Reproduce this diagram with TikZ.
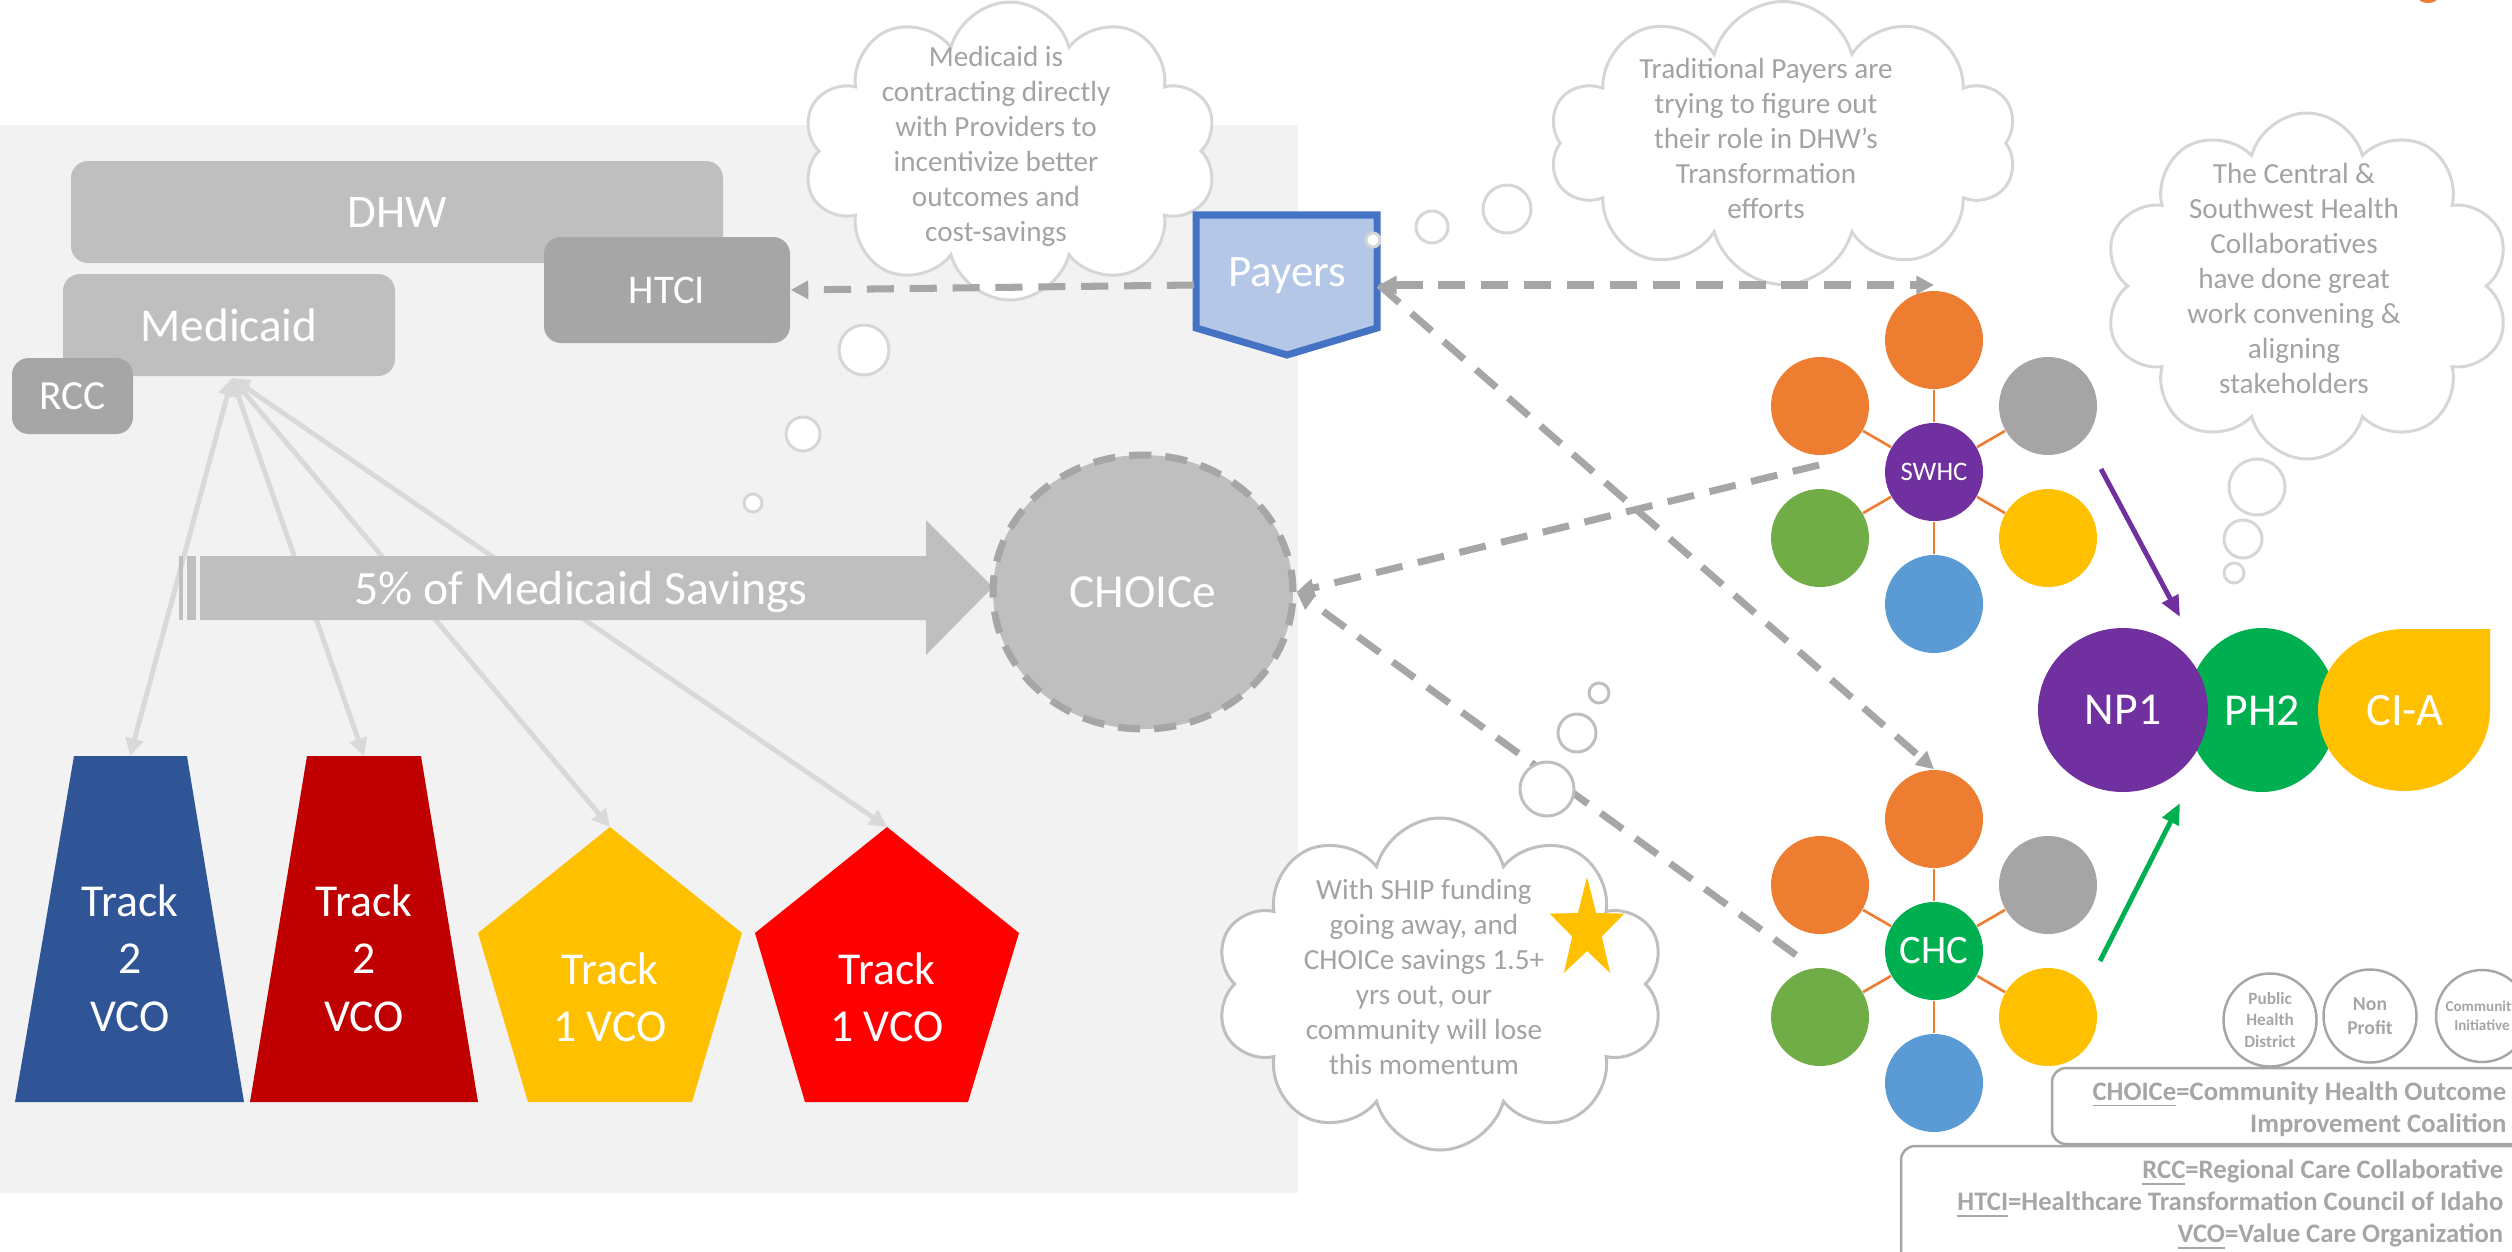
\documentclass[tikz,border=0pt]{standalone}
\usepackage{fontspec}
\setmainfont{Carlito}
\usetikzlibrary{shapes.geometric,shapes.symbols,arrows.meta}
\newcommand{\fsz}[2]{\fontsize{#1}{#2}\selectfont}
\definecolor{bgg}{HTML}{F2F2F2}
\definecolor{boxg}{HTML}{BFBFBF}
\definecolor{darkg}{HTML}{A6A6A6}
\definecolor{lineg}{HTML}{D9D9D9}
\definecolor{dashg}{HTML}{A6A6A6}
\definecolor{cloudln}{HTML}{D6D6D6}
\definecolor{cloudln4}{HTML}{BFBFBF}
\definecolor{cloudtxt}{HTML}{A3A3A3}
\definecolor{legg}{HTML}{A6A6A6}
\definecolor{payfill}{HTML}{B4C7E7}
\definecolor{payline}{HTML}{4472C4}
\definecolor{tblue}{HTML}{2F5597}
\definecolor{tdred}{HTML}{C00000}
\definecolor{tyell}{HTML}{FFC000}
\definecolor{tred}{HTML}{FF0000}
\definecolor{orng}{HTML}{ED7D31}
\definecolor{pgray}{HTML}{A5A5A5}
\definecolor{pgreen}{HTML}{70AD47}
\definecolor{pblue}{HTML}{5B9BD5}
\definecolor{purp}{HTML}{7030A0}
\definecolor{grn}{HTML}{00B050}
\begin{document}
\begin{tikzpicture}[x=0.1mm,y=-0.1mm,
  lbl/.style={text=white, inner sep=0pt},
  gbox/.style={rounded corners=4.8pt, inner sep=0pt, text=white},
  ctext/.style={text=cloudtxt, align=center, inner sep=0pt, font=\fsz{8.3}{9.96}},
  cloudsh/.style={cloud, cloud puffs=10, cloud ignores aspect, draw=cloudln, line width=0.85pt, fill=white, inner sep=0pt},
  bubble/.style={draw=cloudln, line width=0.85pt, fill=white},
  dasharr/.style={draw=dashg, line width=2pt, dash pattern=on 7.7pt off 4.5pt, -{Triangle[length=5pt,width=5pt]}},
  medarr/.style={draw=lineg, line width=1.4pt, {Triangle[length=5pt,width=5pt]}-{Triangle[length=5pt,width=5pt]}},
  spoke/.style={draw=orng, line width=0.75pt},
  petal/.style={circle, minimum size=9.8mm, inner sep=0pt},
  tracktxt/.style={text=white, align=center, inner sep=0pt, font=\fsz{13}{16.3}},
  legtxt/.style={text=legg, align=right, inner sep=0pt, font=\bfseries\fsz{7.6}{9.1}},
  legcirc/.style={circle, draw=legg, line width=0.7pt, minimum size=9.2mm, inner sep=0pt, text=legg, align=center},
  legbox/.style={draw=legg, line width=0.7pt, rounded corners=4pt, fill=white}
]
\useasboundingbox (0,0) rectangle (2512,1251);
% background panel
\fill[bgg] (0,125) rectangle (1298,1193);
% tiny orange mark at top edge
\fill[orng] (2428,-3) ellipse [x radius=10, y radius=6];

% clouds 1-3
\node[cloudsh, minimum width=41.5mm, minimum height=29.8mm] (c1) at (1010,151) {};
\node[ctext] (c1t) at (996,146) {Medicaid is\\contracting directly\\with Providers to\\incentivize better\\outcomes and\\cost-savings};
\draw[bubble] (864,350) circle [radius=25];
\draw[bubble] (803,434) circle [radius=17];
\draw[bubble] (753,503) circle [radius=9];

\node[cloudsh, minimum width=46.8mm, minimum height=28.3mm] (c2) at (1783,143) {};
\node[ctext] (c2t) at (1766,138) {Traditional Payers are\\trying to figure out\\their role in DHW's\\Transformation\\efforts};
\draw[bubble] (1507,209) circle [radius=24];
\draw[bubble] (1432,227) circle [radius=16];

\node[cloudsh, minimum width=40.6mm, minimum height=34.6mm] (c3) at (2307,286) {};
\node[ctext] (c3t) at (2294,278) {The Central \&\\Southwest Health\\Collaboratives\\have done great\\work convening \&\\aligning\\stakeholders};
\draw[bubble] (2257,487) circle [radius=28];
\draw[bubble] (2243,539) circle [radius=19];
\draw[bubble] (2234,573) circle [radius=10];

% DHW group
\node[gbox, fill=boxg, minimum width=65.2mm, minimum height=10.2mm, font=\fsz{13.3}{16}] (dhw) at (397,212) {DHW};
\node[gbox, fill=boxg, minimum width=33.2mm, minimum height=10.2mm, font=\fsz{13.4}{16}] (medicaid) at (229,325) {Medicaid};
\node[gbox, fill=darkg, minimum width=12.1mm, minimum height=7.6mm, font=\fsz{11.8}{14}] (rcc) at (72.5,396) {RCC};
\node[gbox, fill=darkg, minimum width=24.6mm, minimum height=10.6mm, font=\fsz{11.6}{14}] (htci) at (667,290) {HTCI};

% track shapes
\fill[tblue] (74,756) -- (187,756) -- (244,1102) -- (15,1102) -- cycle;
\fill[tdred] (307,756) -- (421,756) -- (478,1102) -- (250,1102) -- cycle;
\fill[tyell] (610,827) -- (742,933) -- (692,1102) -- (528,1102) -- (478,933) -- cycle;
\fill[tred] (887,827) -- (1019,933) -- (968,1102) -- (805,1102) -- (755,933) -- cycle;
\node[tracktxt] (tr1) at (130,958) {Track\\2\\VCO};
\node[tracktxt] (tr2) at (364,958) {Track\\2\\VCO};
\node[tracktxt] (tr3) at (610,997) {Track\\1 VCO};
\node[tracktxt] (tr4) at (887,997) {Track\\1 VCO};
\coordinate (t1top) at (130,756);
\coordinate (t2top) at (364,756);
\coordinate (t3top) at (610,827);
\coordinate (t4top) at (887,827);
\coordinate (medb) at (232,378);
\draw[medarr] (medb) -- (t1top);
\draw[medarr] (medb) -- (t2top);
\draw[medarr] (medb) -- (t3top);
\draw[medarr] (medb) -- (t4top);

% 5% striped arrow
\fill[boxg] (179,556) rectangle (183,620);
\fill[boxg] (187,556) rectangle (196,620);
\fill[boxg] (200,556) -- (926,556) -- (926,520) -- (993,587) -- (926,655) -- (926,620) -- (200,620) -- cycle;
\node[lbl, anchor=base, font=\fsz{13.6}{16}] (pct) at (581,604) {5\% of Medicaid Savings};

% CHOICe
\node[ellipse, fill=boxg, draw=dashg, line width=2pt, dash pattern=on 6.3pt off 4pt, minimum width=30mm, minimum height=27.4mm, text=white, font=\fsz{13.5}{16}] (choice) at (1143,592) {CHOICe};

% Payers
\filldraw[fill=payfill, draw=payline, line width=2pt] (1196,215) -- (1377,215) -- (1377,328) -- (1287,355) -- (1196,328) -- cycle;
\node[lbl, anchor=base, font=\fsz{12.8}{15}] (payers) at (1287,286) {Payers};
\draw[bubble] (1373,240) circle [radius=7];
\coordinate (payL) at (1194,285);
\coordinate (payR) at (1379,285);

% SWHC cluster
\node[petal, fill=orng] (swT) at (1934,340) {};
\node[petal, fill=orng] (swUL) at (1820,406) {};
\node[petal, fill=pgray] (swUR) at (2048,406) {};
\node[petal, fill=pgreen] (swLL) at (1820,538) {};
\node[petal, fill=tyell] (swLR) at (2048,538) {};
\node[petal, fill=pblue] (swB) at (1934,604) {};
\node[petal, fill=purp, text=white, font=\fsz{7.6}{9}] (swhc) at (1934,472) {SWHC};
\foreach \p in {swT,swUL,swUR,swLL,swLR,swB} \draw[spoke] (swhc) -- (\p);

% CHC cluster
\node[petal, fill=orng] (chT) at (1934,819) {};
\node[petal, fill=orng] (chUL) at (1820,885) {};
\node[petal, fill=pgray] (chUR) at (2048,885) {};
\node[petal, fill=pgreen] (chLL) at (1820,1017) {};
\node[petal, fill=tyell] (chLR) at (2048,1017) {};
\node[petal, fill=pblue] (chB) at (1934,1083) {};
\node[petal, fill=grn, text=white, font=\fsz{11.5}{14}] (chc) at (1934,951) {CHC};
\foreach \p in {chT,chUL,chUR,chLL,chLR,chB} \draw[spoke] (chc) -- (\p);

% NP1 / PH2 / CI-A
\node[ellipse, fill=grn, minimum width=15mm, minimum height=16.4mm, inner sep=0pt, text=white, font=\fsz{13}{16}] (ph2) at (2262,710) {};
\node[ellipse, fill=purp, minimum width=17mm, minimum height=16.4mm, inner sep=0pt, text=white, font=\fsz{13}{16}] (np1) at (2123,710) {NP1};
\fill[tyell] (2490,629) -- (2490,710) arc [start angle=0, end angle=270, x radius=86, y radius=81] -- cycle;
\node[lbl, font=\fsz{13}{16}] (ph2t) at (2262,711) {PH2};
\node[lbl, font=\fsz{13.2}{16}] (cia) at (2405,711) {CI-A};
\coordinate (pa1) at (2101,469);
\coordinate (pa2) at (2180,617);
\coordinate (ga1) at (2100,961);
\coordinate (ga2) at (2180,803);
\draw[draw=purp, line width=1.4pt, -{Triangle[length=6pt,width=5pt]}] (pa1) -- (pa2);
\draw[draw=grn, line width=1.4pt, -{Triangle[length=6pt,width=5pt]}] (ga1) -- (ga2);

% dashed connectors
\coordinate (swL) at (1819,465);
\coordinate (chcL) at (1796,955);
\draw[dasharr] (payL) -- (htci.east);
\draw[dasharr, {Triangle[length=5pt,width=5pt]}-{Triangle[length=5pt,width=5pt]}] (payR) -- (payR -| swT);
\draw[dasharr] (payR) -- (chT.north);
\draw[dasharr] (swL) -- (choice.east);
\draw[dasharr] (chcL) -- (choice.east);

% cloud 4
\node[cloudsh, draw=cloudln4, minimum width=44.9mm, minimum height=33.2mm] (c4) at (1440,984) {};
\node[ctext, text=cloudtxt] (c4t) at (1424,977) {With SHIP funding\\going away, and\\CHOICe savings 1.5+\\yrs out, our\\community will lose\\this momentum};
\fill[tyell] (1587,877) -- (1596.1,913) -- (1624.3,913.6) -- (1601.8,936.5) -- (1610.1,972.9) -- (1587,951) -- (1563.9,972.9) -- (1572.2,936.5) -- (1549.7,913.6) -- (1577.9,913) -- cycle;
\draw[bubble, draw=cloudln4] (1547,789) circle [radius=27];
\draw[bubble, draw=cloudln4] (1577,733) circle [radius=19];
\draw[bubble, draw=cloudln4] (1599,693) circle [radius=10];

% legend
\node[legcirc, minimum size=9.3mm, font=\bfseries\fsz{4.9}{6}] (phd) at (2270,1020) {Public\\Health\\District};
\node[legcirc, minimum size=9.3mm, font=\bfseries\fsz{5.6}{6.9}] (npf) at (2370,1016) {Non\\Profit};
\node[legcirc, minimum size=9.2mm, font=\bfseries\fsz{4.3}{5.4}] (cin) at (2482,1016) {Community\\Initiative};
\draw[legbox] (2052,1068) rectangle (2560,1144);
\draw[legbox] (1901,1146) rectangle (2560,1300);
\node[legtxt, anchor=east] (leg1) at (2507,1109) {\underline{CHOICe}=Community Health Outcome\\Improvement Coalition};
\node[legtxt, anchor=east] (leg2) at (2504,1205) {\underline{RCC}=Regional Care Collaborative\\\underline{HTCI}=Healthcare Transformation Council of Idaho\\\underline{VCO}=Value Care Organization};
\end{tikzpicture}
\end{document}
